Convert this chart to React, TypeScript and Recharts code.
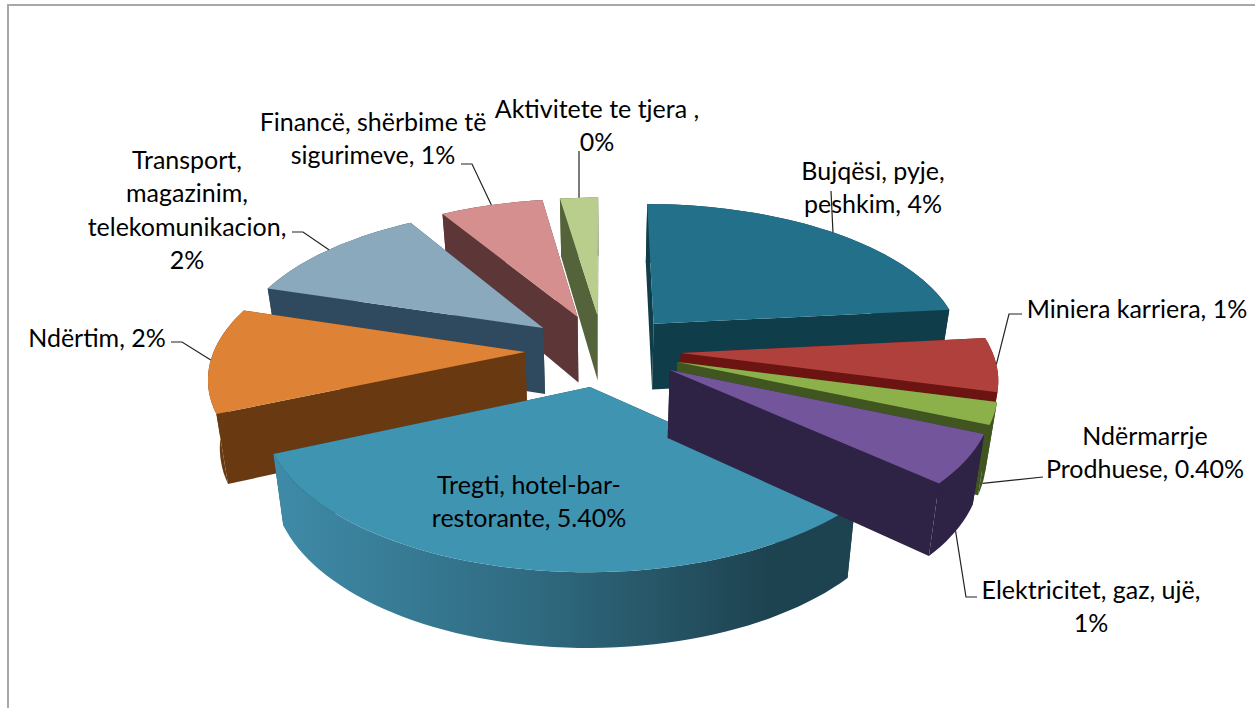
import React from "react";
import { PieChart, Pie } from "recharts";

const names = [
  "Bujqësi, pyje, peshkim",
  "Miniera karriera",
  "Ndërmarrje Prodhuese",
  "Elektricitet, gaz, ujë",
  "Tregti, hotel-bar-restorante",
  "Ndërtim",
  "Transport, magazinim, telekomunikacion",
  "Financë, shërbime të sigurimeve",
  "Aktivitete te tjera",
];
const values = [4, 1, 0.4, 0.9, 5.43, 1.95, 1.98, 1.08, 0.4];
const labelLines = [
  ["Bujqësi, pyje,", "peshkim, 4%"],
  ["Miniera karriera, 1%"],
  ["Ndërmarrje", "Prodhuese, 0.40%"],
  ["Elektricitet, gaz, ujë,", "1%"],
  ["Tregti, hotel-bar-", "restorante, 5.40%"],
  ["Ndërtim, 2%"],
  ["Transport,", "magazinim,", "telekomunikacion,", "2%"],
  ["Financë, shërbime të", "sigurimeve, 1%"],
  ["Aktivitete te tjera ,", "0%"],
];

// back to front, the slices overlap each other
const paintOrder = [8, 7, 6, 5, 0, 4, 1, 2, 3];

const topColors = ["#23708a", "#b0403c", "#8cb04a", "#72559a", "#3f94b2", "#de8235", "#8aa9bd", "#d68f8f", "#b9cd8c"];
const wallColors = ["#0f3d4a", "#6b1412", "#40551f", "#2e2245", "url(#tregtiWall)", "#693a12", "#2f4a5e", "#5d3638", "#55633a"];

// label centre x, first line centre y
const labelSpots = [
  [873, 170],
  [1137, 308],
  [1145, 435],
  [1091, 589],
  [529, 484],
  [97, 337],
  [187, 159],
  [373, 121],
  [597, 108],
];
// leader line elbows, where along the arc it starts, and whether on the bottom rim
const leaderElbows: ({ pts: number[][]; at: number; low: boolean } | null)[] = [
  { pts: [[831, 191]], at: 0.505, low: false },
  { pts: [[1009, 314], [1022, 314]], at: 0.5, low: false },
  { pts: [[1043, 477]], at: 0.5, low: true },
  { pts: [[966, 597], [977, 597]], at: 0.5, low: true },
  null,
  { pts: [[182, 342], [171, 342]], at: 0.5, low: false },
  { pts: [[303, 232], [292, 232]], at: 0.5, low: false },
  { pts: [[472, 164], [461, 164]], at: 0.5, low: false },
  { pts: [[579, 151]], at: 0.5, low: false },
];

const rows = names.map((name, i) => ({ name, value: values[i] }));

const TILT = 0.466;
const PERSPECTIVE = 0.15;
const EXPLODE = 0.25;
const rad = (d: number) => (d * Math.PI) / 180;

function projector(p: any) {
  const ry = p.outerRadius * TILT;
  return (X: number, Y: number, low: boolean) => {
    const s = 1 / (1 - PERSPECTIVE * Y);
    const x = p.cx + p.outerRadius * X * s;
    const y = p.cy + ry * Y * s;
    if (!low) return [x, y];
    return [p.cx + (x - p.cx) * 0.97, y + 67 + 7 * Y];
  };
}

function sliceGeometry(p: any) {
  const mid = rad((p.startAngle + p.endAngle) / 2);
  const ox = EXPLODE * Math.cos(mid);
  const oy = -EXPLODE * Math.sin(mid);
  const at = (f: number) => {
    const a = rad(p.startAngle + (p.endAngle - p.startAngle) * f);
    return [ox + Math.cos(a), oy - Math.sin(a)];
  };
  const arc: number[][] = [];
  const steps = Math.max(3, Math.ceil(Math.abs(p.endAngle - p.startAngle) / 2));
  for (let i = 0; i <= steps; i++) arc.push(at(i / steps));
  return { arc, tip: [ox, oy], at };
}

const toPath = (pts: number[][]) => "M" + pts.map((q) => `${q[0].toFixed(1)},${q[1].toFixed(1)}`).join("L") + "Z";

function Slice3D(p: any, idx: number) {
  const project = projector(p);
  const { arc, tip } = sliceGeometry(p);
  const up = arc.map((q) => project(q[0], q[1], false));
  const down = arc.map((q) => project(q[0], q[1], true));
  const tipUp = project(tip[0], tip[1], false);
  const tipDown = project(tip[0], tip[1], true);
  const last = arc.length - 1;
  const wall = wallColors[idx];
  const flat = idx === 4 ? "#1e4350" : wall;
  return (
    <g>
      <path d={toPath([tipUp, up[0], down[0], tipDown])} fill={flat} />
      <path d={toPath([tipUp, up[last], down[last], tipDown])} fill={flat} />
      <path d={toPath([...up, ...[...down].reverse()])} fill={wall} />
      <path d={toPath([tipUp, ...up])} fill={topColors[idx]} />
    </g>
  );
}

function SliceLabel(p: any, idx: number) {
  const [lx, ly] = labelSpots[idx];
  const elbow = leaderElbows[idx];
  let leader = null;
  if (elbow) {
    const anchor = sliceGeometry(p).at(elbow.at);
    const start = projector(p)(anchor[0], anchor[1], elbow.low);
    const pts = [start, ...elbow.pts].map((q) => q.join(",")).join(" ");
    leader = <polyline points={pts} fill="none" stroke="#222" strokeWidth={1.2} />;
  }
  return (
    <g>
      {leader}
      {labelLines[idx].map((line, n) => (
        <text key={n} x={lx} y={ly + n * 33.4} textAnchor="middle" dominantBaseline="central"
          fontFamily="Lato" fontSize={25} fill="#000">
          {line}
        </text>
      ))}
    </g>
  );
}

export default function App() {
  return (
    <div style={{ position: "absolute", left: 0, top: 0, width: 1255, height: 708, overflow: "hidden", background: "#fff" }}>
      <div style={{ position: "absolute", left: 7, top: 4, width: 1260, height: 720, border: "2px solid #a8a8a8" }} />
      <div style={{ position: "absolute", left: 0, top: 0 }}>
        <PieChart width={1255} height={708} margin={{ top: 0, right: 0, bottom: 0, left: 0 }}>
          <defs>
            <linearGradient id="tregtiWall" x1="0" y1="0" x2="1" y2="0">
              <stop offset="0%" stopColor="#3f8ba8" />
              <stop offset="45%" stopColor="#2f6a80" />
              <stop offset="85%" stopColor="#1e4350" />
              <stop offset="100%" stopColor="#1e4350" />
            </linearGradient>
          </defs>
          {paintOrder.map((idx) => (
            <Pie
              key={idx}
              data={rows}
              dataKey="value"
              nameKey="name"
              cx={603}
              cy={350}
              outerRadius={311}
              startAngle={90}
              endAngle={-270}
              stroke="none"
              isAnimationActive={false}
              legendType="none"
              labelLine={false}
              label={(p: any) => (p.name === names[idx] ? SliceLabel(p, idx) : <g />)}
              shape={(p: any) => (p.name === names[idx] ? Slice3D(p, idx) : <g />)}
            />
          ))}
        </PieChart>
      </div>
    </div>
  );
}
